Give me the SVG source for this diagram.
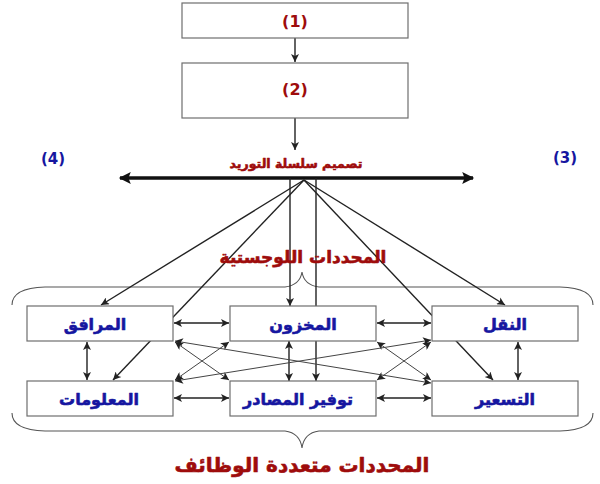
<svg xmlns="http://www.w3.org/2000/svg" width="600" height="484" viewBox="0 0 600 484">
<style>
.box{fill:#fff;stroke:#6e6e6e;stroke-width:1.2}
.red{fill:#9e0c0c;font-family:"DejaVu Sans",sans-serif;font-weight:bold;text-anchor:middle}
.blue{fill:#1616a0;font-family:"DejaVu Sans",sans-serif;font-weight:bold;text-anchor:middle}
.ar{stroke-width:0.6;stroke-linejoin:round}
.red.ar{stroke:#9e0c0c}
.blue.ar{stroke:#1616a0}
.c{stroke:#222;stroke-width:1.4;fill:none}
.x{stroke:#444;stroke-width:1;fill:none}
.br{stroke:#555;stroke-width:1.1;fill:none}
</style>
<defs>
<marker id="a" viewBox="0 0 10 10" refX="10" refY="5" markerWidth="10" markerHeight="8" markerUnits="userSpaceOnUse" orient="auto-start-reverse"><path d="M0,0 L10,5 L0,10 L2.5,5 z" fill="#222"/></marker>
<marker id="big" viewBox="0 0 10 10" refX="9" refY="5" markerWidth="16" markerHeight="12" markerUnits="userSpaceOnUse" orient="auto-start-reverse"><path d="M0,0 L10,5 L0,10 L2,5 z" fill="#111"/></marker>
</defs>
<g id="braces">
<path class="br" d="M12,305 Q12,288 45,287 L285,287 Q300,285 302,272 Q304,285 319,287 L560,287 Q593,288 593,305"/>
<path class="br" d="M12,413 Q12,430 45,431 L285,431 Q300,433 302,448 Q304,433 319,431 L560,431 Q593,430 593,413"/>
</g>
<g id="connectors">
<line class="c" x1="295" y1="38" x2="295" y2="62" marker-end="url(#a)"/>
<line class="c" x1="295" y1="118" x2="295" y2="150" marker-end="url(#a)"/>
<line x1="120" y1="178" x2="473" y2="178" stroke="#111" stroke-width="3.5" marker-start="url(#big)" marker-end="url(#big)"/>
<line class="c" x1="304" y1="180" x2="101" y2="305" marker-end="url(#a)"/>
<line class="c" x1="304" y1="180" x2="113" y2="380" marker-end="url(#a)"/>
<line class="c" x1="290" y1="178" x2="290" y2="306" marker-end="url(#a)"/>
<line class="c" x1="316" y1="178" x2="316" y2="381" marker-end="url(#a)"/>
<line class="c" x1="304" y1="180" x2="493" y2="380" marker-end="url(#a)"/>
<line class="c" x1="304" y1="180" x2="505" y2="305" marker-end="url(#a)"/>
<line class="c" x1="174" y1="323" x2="229" y2="323" marker-start="url(#a)" marker-end="url(#a)"/>
<line class="c" x1="377" y1="323" x2="431" y2="323" marker-start="url(#a)" marker-end="url(#a)"/>
<line class="c" x1="174" y1="398" x2="229" y2="398" marker-start="url(#a)" marker-end="url(#a)"/>
<line class="c" x1="377" y1="398" x2="431" y2="398" marker-start="url(#a)" marker-end="url(#a)"/>
<line class="c" x1="87" y1="342" x2="87" y2="380" marker-start="url(#a)" marker-end="url(#a)"/>
<line class="c" x1="289" y1="341" x2="289" y2="381" marker-start="url(#a)" marker-end="url(#a)"/>
<line class="c" x1="518" y1="342" x2="518" y2="380" marker-start="url(#a)" marker-end="url(#a)"/>
<line class="x" x1="175" y1="342" x2="229" y2="380" marker-start="url(#a)" marker-end="url(#a)"/>
<line class="x" x1="175" y1="380" x2="229" y2="342" marker-start="url(#a)" marker-end="url(#a)"/>
<line class="x" x1="377" y1="342" x2="431" y2="380" marker-start="url(#a)" marker-end="url(#a)"/>
<line class="x" x1="377" y1="380" x2="431" y2="342" marker-start="url(#a)" marker-end="url(#a)"/>
<line class="x" x1="175" y1="341" x2="431" y2="383" marker-start="url(#a)" marker-end="url(#a)"/>
<line class="x" x1="175" y1="381" x2="431" y2="340" marker-start="url(#a)" marker-end="url(#a)"/>
</g>
<g id="n1"><rect class="box" x="182" y="3" width="226" height="35"/><text class="red" x="295" y="27" font-size="16">(1)</text></g>
<g id="n2"><rect class="box" x="182" y="63" width="226" height="55"/><text class="red" x="295" y="95" font-size="16">(2)</text></g>
<g id="labels">
<text class="red ar" x="296" y="168" font-size="12.5">تصميم سلسلة التوريد</text>
<text class="blue" x="53" y="164" font-size="15">(4)</text>
<text class="blue" x="565" y="163" font-size="15">(3)</text>
<text class="red ar" x="303" y="263" font-size="17">المحددات اللوجستية</text>
<text class="red ar" x="302" y="472" font-size="20">المحددات متعددة الوظائف</text>
</g>
<g id="marafiq"><rect class="box" x="27" y="306" width="146" height="35"/><text class="blue ar" x="95" y="330" font-size="16">المرافق</text></g>
<g id="makhzoon"><rect class="box" x="230" y="306" width="146" height="35"/><text class="blue ar" x="303" y="330" font-size="16">المخزون</text></g>
<g id="naql"><rect class="box" x="432" y="306" width="146" height="35"/><text class="blue ar" x="505" y="330" font-size="16">النقل</text></g>
<g id="maloumat"><rect class="box" x="27" y="381" width="146" height="35"/><text class="blue ar" x="99" y="405" font-size="16">المعلومات</text></g>
<g id="tawfir"><rect class="box" x="230" y="381" width="146" height="35"/><text class="blue ar" x="298" y="405" font-size="16">توفير المصادر</text></g>
<g id="taseer"><rect class="box" x="432" y="381" width="146" height="35"/><text class="blue ar" x="505" y="405" font-size="16">التسعير</text></g>
</svg>
